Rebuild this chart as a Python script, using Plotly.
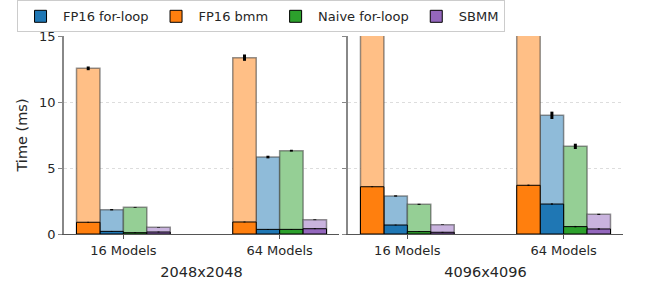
import plotly.graph_objects as go
from plotly.subplots import make_subplots

groups = ["16 Models", "64 Models"]
panels = ["2048x2048", "4096x4096"]
series = ["FP16 for-loop", "FP16 bmm", "Naive for-loop", "SBMM"]

# values per series: [2048/16, 2048/64, 4096/16, 4096/64]  (ms)
for_loop_total = [1.84, 5.83, 2.88, 8.99]
for_loop_total_err = [0.05, 0.10, 0.05, 0.28]
for_loop_base = [0.20, 0.35, 0.68, 2.27]
bmm_total = [12.55, 13.36, 38.0, 41.0]
bmm_total_err = [0.14, 0.24, 0.5, 0.5]
bmm_base = [0.89, 0.91, 3.58, 3.69]
naive_total = [2.02, 6.31, 2.25, 6.64]
naive_total_err = [0.03, 0.07, 0.04, 0.20]
naive_base = [0.10, 0.35, 0.18, 0.56]
sbmm_total = [0.51, 1.08, 0.71, 1.49]
sbmm_total_err = [0.02, 0.03, 0.02, 0.04]
sbmm_base = [0.15, 0.40, 0.13, 0.38]
base_err = [0.03, 0.03, 0.03, 0.05]

colors = {"FP16 for-loop": "#1f77b4", "FP16 bmm": "#ff7f0e",
          "Naive for-loop": "#2ca02c", "SBMM": "#9467bd"}
light = {"FP16 for-loop": "#8fbbd9", "FP16 bmm": "#ffbf86",
         "Naive for-loop": "#95cf95", "SBMM": "#c9b3de"}
# position in group (order of bars within a group)
slot = {"FP16 bmm": 0, "FP16 for-loop": 1, "Naive for-loop": 2, "SBMM": 3}
data = {
    "FP16 for-loop": (for_loop_total, for_loop_total_err, for_loop_base),
    "FP16 bmm": (bmm_total, bmm_total_err, bmm_base),
    "Naive for-loop": (naive_total, naive_total_err, naive_base),
    "SBMM": (sbmm_total, sbmm_total_err, sbmm_base),
}

W = 0.15
FONT = "DejaVu Sans"
TXT = "#262626"

fig = make_subplots(rows=1, cols=2, horizontal_spacing=0.016)
xs = [0, 1]

for p in range(2):
    sl = slice(2 * p, 2 * p + 2)
    for name in series:
        tot, err, _ = data[name]
        fig.add_trace(go.Bar(
            x=xs, y=tot[sl], width=W, offset=-0.3 + slot[name] * W,
            marker=dict(color=light[name], line=dict(color="rgba(60,60,60,0.55)", width=1.5)),
            error_y=dict(type="data", array=err[sl], color="black", thickness=3, width=0),
            showlegend=False, name=name, hoverinfo="skip"), row=1, col=p + 1)
    for name in series:
        _, _, base = data[name]
        fig.add_trace(go.Bar(
            x=xs, y=base[sl], width=W, offset=-0.3 + slot[name] * W,
            marker=dict(color=colors[name], line=dict(color="black", width=1)),
            error_y=dict(type="data", array=base_err[sl], color="black", thickness=2, width=0),
            showlegend=(p == 0), name=name, legendgroup=name), row=1, col=p + 1)

for p in range(2):
    fig.update_xaxes(
        row=1, col=p + 1, range=[-0.38, 1.38], tickvals=xs, ticktext=groups,
        showline=True, linecolor="#555555", linewidth=1.2, ticks="outside",
        ticklen=4, tickcolor="#555555", showgrid=False, zeroline=False,
        tickfont=dict(family=FONT, size=13, color=TXT),
        title=dict(text=panels[p], font=dict(family=FONT, size=14.5, color=TXT), standoff=10))
    fig.update_yaxes(
        row=1, col=p + 1, range=[0, 15], tickvals=[0, 5, 10, 15],
        showline=True, linecolor="#888888", linewidth=1.5, ticks="outside",
        ticklen=4, tickcolor="#888888", showgrid=True, gridcolor="#dddddd",
        griddash="dot", gridwidth=1, zeroline=False,
        showticklabels=(p == 0),
        tickfont=dict(family=FONT, size=13, color=TXT))

fig.update_yaxes(row=1, col=1, title=dict(text="Time (ms)", font=dict(family=FONT, size=14.5, color=TXT), standoff=8))

fig.update_layout(
    width=649, height=286, barmode="overlay",
    margin=dict(l=64, r=26, t=36, b=52, autoexpand=False),
    plot_bgcolor="white", paper_bgcolor="white",
    font=dict(family=FONT, size=13, color=TXT),
    legend=dict(orientation="h", x=-0.084, xanchor="left", y=1.18, yanchor="top",
                bordercolor="#cccccc", borderwidth=1, bgcolor="white",
                font=dict(family=FONT, size=13, color=TXT),
                traceorder="normal", itemwidth=35),
)

fig.write_html("out.html", config={"displayModeBar": False},
               post_script="document.body.style.margin='0';")
